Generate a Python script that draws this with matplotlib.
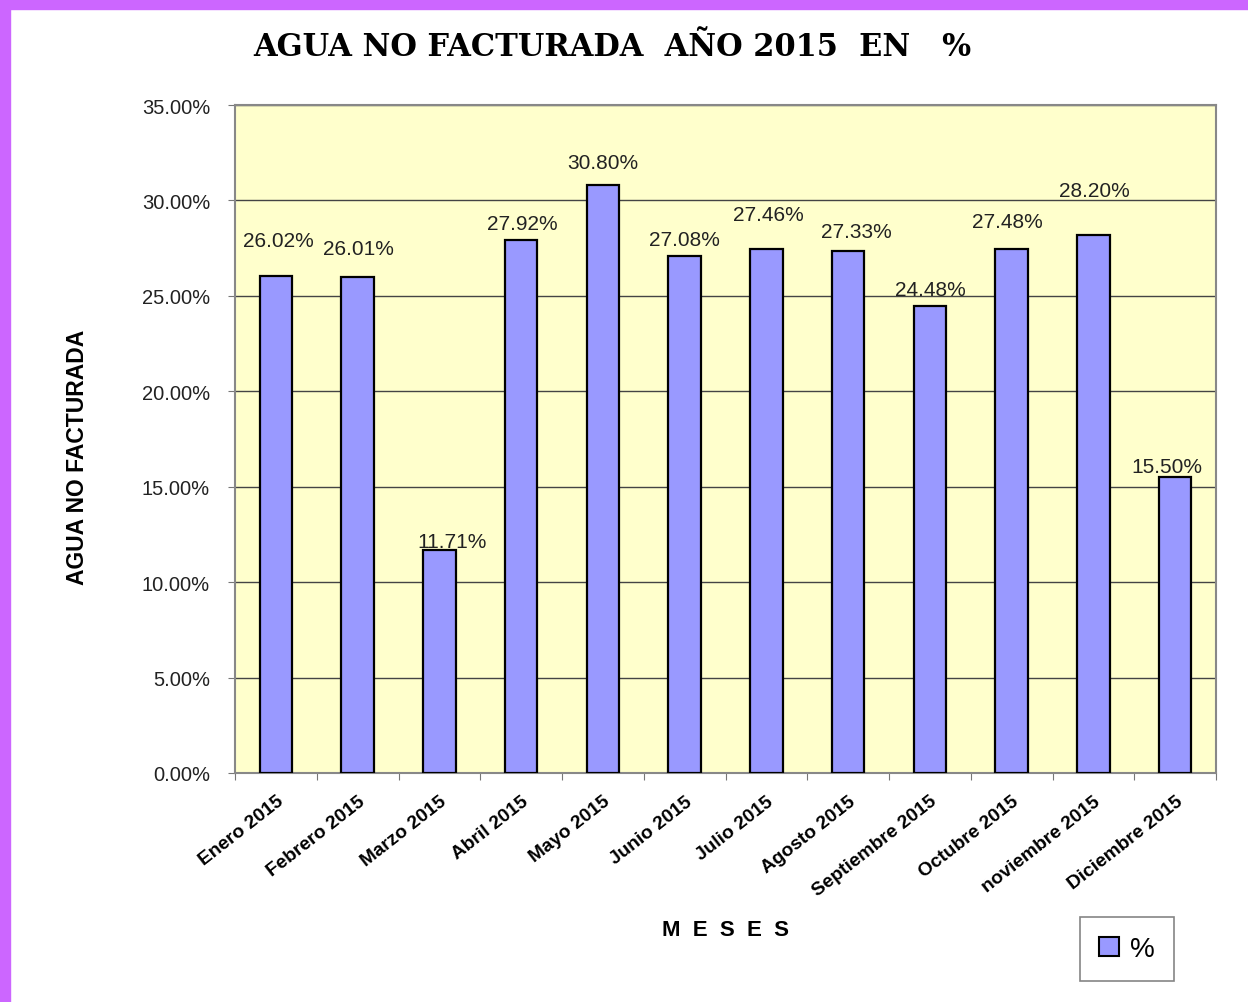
import numpy as np
import matplotlib
matplotlib.use("Agg")
import matplotlib.pyplot as plt
from matplotlib.patches import Rectangle, Patch

# data
meses = ["Enero 2015", "Febrero 2015", "Marzo 2015", "Abril 2015", "Mayo 2015",
         "Junio 2015", "Julio 2015", "Agosto 2015", "Septiembre 2015",
         "Octubre 2015", "noviembre 2015", "Diciembre 2015"]
agua_nf = [26.02, 26.01, 11.71, 27.92, 30.80, 27.08, 27.46, 27.33, 24.48, 27.48, 28.20, 15.50]
y_ticks = [0, 5, 10, 15, 20, 25, 30, 35]

# label nudges in pixels (dx, dy above the bar top), as placed in the original
label_dx = [3, 1, 13, 1, 0, 0, 2, 8, 0, -4, 1, -8]
label_dy = [36, 28, 8, 17, 23, 17, 34, 20, 16, 27, 44, 11]

fig = plt.figure(figsize=(12.48, 10.03), dpi=100)
fig.patch.set_facecolor("white")

# purple frame at top and left
fig.patches.append(Rectangle((0, 1 - 10 / 1003), 1, 10 / 1003, transform=fig.transFigure,
                             color="#cc66ff", zorder=0))
fig.patches.append(Rectangle((0, 0), 10 / 1248, 1, transform=fig.transFigure,
                             color="#cc66ff", zorder=0))

ax = fig.add_axes([235 / 1248, 1 - 774 / 1003, 981 / 1248, 668 / 1003])
ax.set_facecolor("#ffffcc")

x = np.arange(len(meses))
bars = ax.bar(x, agua_nf, width=0.4, color="#9999ff", edgecolor="black", linewidth=1.6, zorder=3)

ax.set_xlim(-0.5, len(meses) - 0.5)
ax.set_ylim(0, 35)
ax.set_yticks(y_ticks)
ax.set_yticklabels(["%.2f%%" % v for v in y_ticks], fontsize=14.5, color="#222222",
                   family="Liberation Sans")
ax.yaxis.grid(True, color="#444444", linewidth=1.0, zorder=1)
ax.tick_params(axis="y", length=5, color="#777777", pad=13)

# x ticks at category borders, labels at centres
ax.set_xticks(np.arange(len(meses) + 1) - 0.5)
ax.set_xticklabels([])
ax.tick_params(axis="x", which="major", length=5, color="#777777")
ax.set_xticks(x, minor=True)
ax.set_xticklabels(meses, minor=True, rotation=38, ha="right", rotation_mode="anchor",
                   fontsize=13.8, fontweight="bold", family="Liberation Sans")
ax.tick_params(axis="x", which="minor", length=0, pad=14)

for s in ax.spines.values():
    s.set_color("#888888")
    s.set_linewidth(1.5)

for i, v in enumerate(agua_nf):
    ax.annotate("%.2f%%" % v, (x[i], v), xytext=(label_dx[i], label_dy[i]),
                textcoords="offset pixels", ha="center", va="center",
                fontsize=15, color="#222222", family="Liberation Sans", zorder=4)

fig.text(612 / 1248, 1 - 47 / 1003, "AGUA NO FACTURADA  AÑO 2015  EN   %",
         ha="center", va="center", fontsize=22, fontweight="bold", family="DejaVu Serif")
fig.text(77 / 1248, 1 - 457 / 1003, "AGUA NO FACTURADA", rotation=90, ha="center", va="center",
         fontsize=16.5, fontweight="bold", family="Liberation Sans")
fig.text(726 / 1248, 1 - 931 / 1003, "M  E  S  E  S", ha="center", va="center",
         fontsize=16, fontweight="bold", family="Liberation Sans")

leg = fig.legend(handles=[Patch(facecolor="#9999ff", edgecolor="black", linewidth=1.5, label="%")],
                 loc="center", bbox_to_anchor=(1127 / 1248, 1 - 950 / 1003),
                 frameon=True, fancybox=False, handlelength=0.7, handleheight=0.7,
                 handletextpad=0.4, borderpad=0.7, borderaxespad=0,
                 prop={"family": "Liberation Sans", "size": 20})
leg.get_frame().set_edgecolor("#666666")
leg.get_frame().set_linewidth(1.2)

fig.savefig("out.png", dpi=100)
